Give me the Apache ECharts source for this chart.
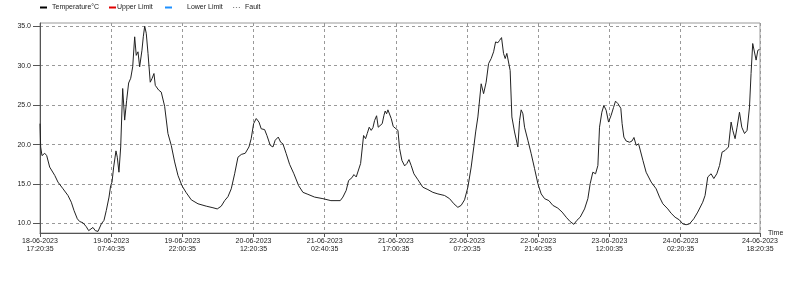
<!DOCTYPE html>
<html>
<head>
<meta charset="utf-8">
<script src="https://cdn.jsdelivr.net/npm/echarts@6/dist/echarts.min.js"></script>
<style>html,body{margin:0;padding:0;background:#fff;}#c{width:800px;height:294px;}</style>
</head>
<body>
<div id="c"></div>
<script>
// minutes elapsed since 18-06-2023 17:20:35
const minutes = [0,8,24,57,81,117,178,217,278,338,378,411,451,480,519,559,588,612,640,668,701,741,773,801,834,854,870,890,918,934,954,975,999,1023,1047,1071,1096,1120,1144,1163,1184,1204,1232,1248,1265,1284,1305,1332,1353,1377,1393,1417,1434,1465,1506,1546,1586,1627,1667,1715,1764,1828,1909,2009,2090,2142,2190,2231,2271,2311,2352,2392,2432,2480,2525,2552,2581,2613,2646,2673,2714,2742,2782,2815,2842,2879,2908,2935,2975,3016,3068,3125,3177,3237,3318,3419,3515,3628,3660,3700,3729,3769,3793,3821,3841,3874,3910,3934,3954,3978,4002,4023,4043,4067,4087,4111,4135,4156,4171,4188,4204,4224,4244,4268,4292,4325,4345,4373,4406,4433,4458,4485,4518,4566,4626,4687,4747,4808,4889,4949,5001,5049,5089,5130,5170,5210,5243,5264,5291,5331,5360,5391,5420,5452,5481,5505,5533,5553,5577,5601,5621,5641,5662,5681,5702,5734,5774,5795,5814,5835,5855,5895,5935,5976,6016,6056,6097,6149,6197,6257,6309,6358,6406,6451,6487,6527,6580,6620,6648,6680,6713,6741,6761,6789,6813,6841,6870,6901,6930,6954,6982,7018,7034,7055,7083,7124,7153,7177,7204,7233,7257,7285,7324,7385,7445,7486,7526,7586,7626,7674,7727,7767,7807,7848,7900,7948,8008,8036,8069,8109,8142,8178,8211,8242,8278,8319,8351,8371,8399,8423,8452,8480,8513,8544,8573,8592,8612,8633,8653,8674,8694];
const temperature = [22.65,19.7,18.6,18.9,18.6,17.15,16.1,15.25,14.4,13.55,12.7,11.65,10.6,10.25,10.1,9.6,9.1,9.2,9.5,9.1,9.0,9.95,10.4,11.65,13.35,14.8,15.25,17.15,19.2,18.4,16.5,19.7,27.1,23.1,25.6,27.8,28.4,29.85,33.65,31.3,31.75,29.85,31.95,33.65,35.0,34.1,31.55,27.9,28.35,29.0,27.5,27.3,26.9,26.65,24.85,21.4,19.9,17.8,16.1,14.8,13.95,13.0,12.5,12.2,12.0,11.85,12.2,12.9,13.4,14.4,16.3,18.4,18.75,18.9,19.7,20.75,22.65,23.3,22.85,22.0,21.9,21.15,19.9,19.7,20.55,20.95,20.3,20.1,18.85,17.5,16.3,14.8,13.95,13.7,13.35,13.15,12.9,12.9,13.35,14.2,15.45,15.8,16.2,15.9,15.7,17.6,21.15,20.75,21.4,22.2,21.8,22.15,23.05,23.65,22.2,22.0,22.65,23.7,24.25,23.9,24.4,24.35,23.3,22.3,22.45,21.8,19.5,18.0,17.3,17.6,18.1,17.35,16.3,15.55,14.6,14.3,13.95,13.75,13.55,13.15,12.5,12.05,12.3,13.0,14.6,17.15,19.8,21.6,23.5,27.7,26.45,27.9,30.25,30.9,31.75,33.0,32.9,33.2,33.55,31.55,30.9,31.55,31.3,29.4,23.5,21.6,19.7,23.05,24.4,23.9,22.2,20.55,18.85,16.95,15.05,13.75,13.15,12.9,12.3,11.95,11.45,10.8,10.25,9.9,10.4,10.8,11.85,13.15,15.05,16.5,16.3,17.35,22.2,24.1,24.95,24.35,22.85,23.7,24.7,25.5,25.2,24.6,22.65,20.95,20.45,20.3,20.45,20.9,19.9,20.1,20.0,18.0,16.5,15.25,14.4,13.35,12.5,11.85,11.3,10.8,10.45,9.95,9.85,9.95,10.6,11.45,12.7,13.55,15.9,16.3,15.7,16.3,17.35,19.05,19.25,19.7,22.85,21.8,20.75,22.2,24.1,22.2,21.4,21.8,24.75,29.0,32.8,33.0,30.7,31.95,32.05];
const xTickValues = [0,860,1720,2580,3440,4300,5160,6020,6880,7740,8700];
const xTickLabels = ['18-06-2023\n17:20:35','19-06-2023\n07:40:35','19-06-2023\n22:00:35','20-06-2023\n12:20:35','21-06-2023\n02:40:35','21-06-2023\n17:00:35','22-06-2023\n07:20:35','22-06-2023\n21:40:35','23-06-2023\n12:00:35','24-06-2023\n02:20:35','24-06-2023\n18:20:35'];
const yTickValues = [10,15,20,25,30,35];
const seriesNames = ['Temperature°C','Upper Limit','Lower Limit','Fault'];

const FONT = 'Liberation Sans, Arial, sans-serif';
const chart = echarts.init(document.getElementById('c'), null, {renderer:'canvas'});
const legendBase = {top: 4, padding:0, itemHeight: 3, itemWidth: 7, textStyle:{fontFamily:FONT, fontSize:7, color:'#222'}, selectedMode:false};
chart.setOption({
  animation:false,
  backgroundColor:'#fff',
  legend:[
    Object.assign({}, legendBase, {left:40, data:[{name:seriesNames[0], icon:'rect', itemStyle:{color:'#000'}}], itemHeight:2}),
    Object.assign({}, legendBase, {left:109, data:[{name:seriesNames[1], icon:'rect', itemStyle:{color:'#e00000'}}], itemHeight:2, textStyle:{fontFamily:FONT, fontSize:7, color:'#222', padding:[0,0,0,-4]}}),
    Object.assign({}, legendBase, {left:165, data:[{name:seriesNames[2], icon:'rect', itemStyle:{color:'#1e90ff'}}], itemHeight:2, textStyle:{fontFamily:FONT, fontSize:7, color:'#222', padding:[0,0,0,10]}}),
    Object.assign({}, legendBase, {left:233, data:[{name:seriesNames[3], icon:'path://M0,0h1v1h-1z M2.5,0h1v1h-1z M5,0h1v1h-1z', itemStyle:{color:'#888'}}], itemHeight:1.5})
  ],
  grid:{left:40, right:40, top:23, bottom:61, show:true, borderColor:'#9a9a9a', borderWidth:1, backgroundColor:'transparent'},
  xAxis:{
    type:'value', min:0, max:8700,
    name:'Time', nameLocation:'end', nameGap:8,
    nameTextStyle:{fontFamily:FONT, fontSize:7, color:'#222', verticalAlign:'middle', padding:[0,0,5,0]},
    axisLine:{lineStyle:{color:'#555', width:1}},
    axisTick:{show:true, length:4, customValues:xTickValues, lineStyle:{color:'#555'}},
    axisLabel:{customValues:xTickValues, margin:4, fontFamily:FONT, fontSize:7, color:'#222', lineHeight:8,
      formatter:function(v){const i = xTickValues.indexOf(Math.round(v)); return i>=0 ? xTickLabels[i] : '';}},
    splitLine:{show:true, lineStyle:{color:'#999', type:[3,3], width:1}}
  },
  yAxis:{
    type:'value', min:8.8, max:35.4,
    axisLine:{show:true, lineStyle:{color:'#555', width:1}},
    axisTick:{show:true, length:7, customValues:yTickValues, lineStyle:{color:'#555'}},
    axisLabel:{customValues:yTickValues, margin:9, fontFamily:FONT, fontSize:7, color:'#222',
      formatter:function(v){return v.toFixed(1);}},
    splitLine:{show:true, lineStyle:{color:'#999', type:[3,3], width:1}}
  },
  series:[
    {name:seriesNames[0], type:'line', data:minutes.map((m,i)=>[m,temperature[i]]), showSymbol:false, symbol:'none',
      lineStyle:{color:'#222', width:1}, itemStyle:{color:'#000'}},
    {name:seriesNames[1], type:'line', data:[], symbol:'none', lineStyle:{color:'#e00000'}, itemStyle:{color:'#e00000'}},
    {name:seriesNames[2], type:'line', data:[], symbol:'none', lineStyle:{color:'#1e90ff'}, itemStyle:{color:'#1e90ff'}},
    {name:seriesNames[3], type:'line', data:[], symbol:'none', lineStyle:{color:'#888', type:'dotted'}, itemStyle:{color:'#888'}}
  ]
});
</script>
</body>
</html>
